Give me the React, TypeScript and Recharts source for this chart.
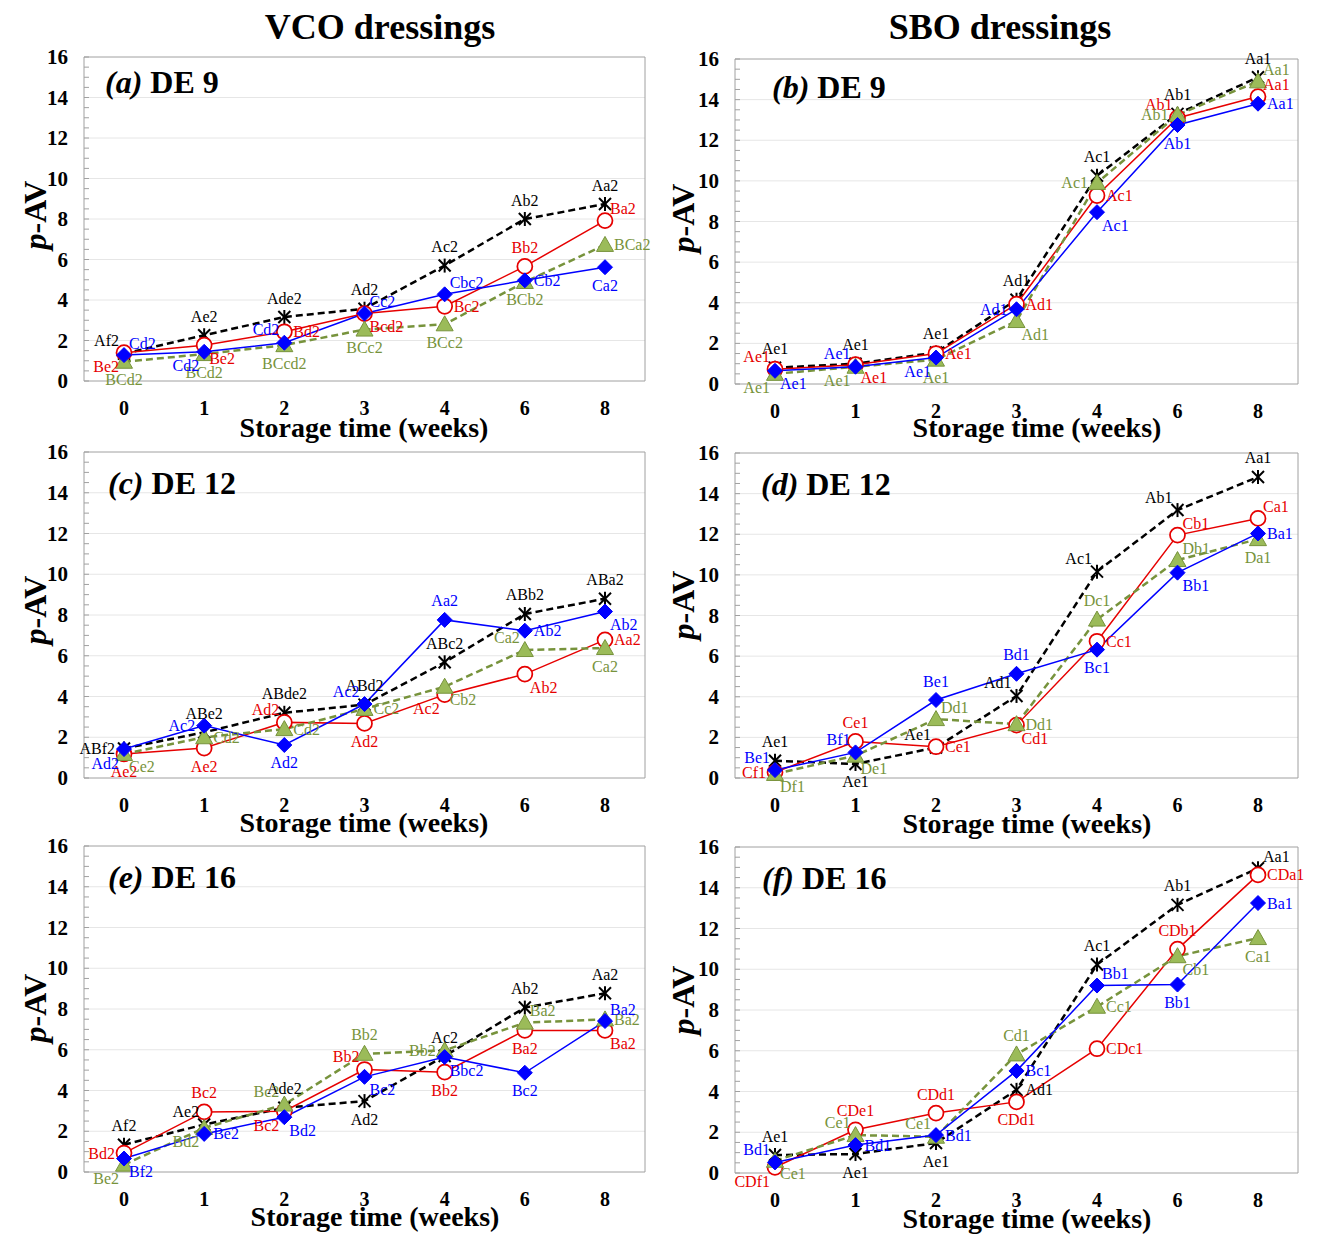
import React from 'react';
import { CartesianGrid, LabelList, Line, LineChart, XAxis, YAxis } from 'recharts';

const WEEKS = ['0', '1', '2', '3', '4', '6', '8'];
const Y_LABELS = [0, 2, 4, 6, 8, 10, 12, 14, 16];
const GRID_VALUES = [2, 4, 6, 8, 10, 12, 14];

// (a) VCO DE 9
const vco9Black = [1.35, 2.26, 3.16, 3.57, 5.7, 8.0, 8.74];
const vco9Red = [1.4, 1.77, 2.43, 3.33, 3.69, 5.66, 7.92];
const vco9Blue = [1.28, 1.44, 1.89, 3.33, 4.28, 4.97, 5.62];
const vco9Green = [0.95, 1.33, 1.77, 2.54, 2.8, 4.89, 6.72];
const vco9BlackLbl = ['Af2', 'Ae2', 'Ade2', 'Ad2', 'Ac2', 'Ab2', 'Aa2'];
const vco9RedLbl = ['Be2', 'Be2', 'Bd2', 'Bcd2', 'Bc2', 'Bb2', 'Ba2'];
const vco9BlueLbl = ['Cd2', 'Cd2', 'Cd2', 'Cc2', 'Cbc2', 'Cb2', 'Ca2'];
const vco9GreenLbl = ['BCd2', 'BCd2', 'BCcd2', 'BCc2', 'BCc2', 'BCb2', 'BCa2'];

// (b) SBO DE 9
const sbo9Black = [0.8, 1.0, 1.55, 4.15, 10.25, 13.3, 15.1];
const sbo9Red = [0.73, 0.95, 1.5, 3.93, 9.28, 13.1, 14.15];
const sbo9Blue = [0.65, 0.85, 1.3, 3.68, 8.46, 12.75, 13.8];
const sbo9Green = [0.5, 0.85, 1.2, 3.1, 9.9, 13.25, 14.9];
const sbo9BlackLbl = ['Ae1', 'Ae1', 'Ae1', 'Ad1', 'Ac1', 'Ab1', 'Aa1'];
const sbo9RedLbl = ['Ae1', 'Ae1', 'Ae1', 'Ad1', 'Ac1', 'Ab1', 'Aa1'];
const sbo9BlueLbl = ['Ae1', 'Ae1', 'Ae1', 'Ad1', 'Ac1', 'Ab1', 'Aa1'];
const sbo9GreenLbl = ['Ae1', 'Ae1', 'Ae1', 'Ad1', 'Ac1', 'Ab1', 'Aa1'];

// (c) VCO DE 12
const vco12Black = [1.45, 2.24, 3.2, 3.6, 5.68, 8.05, 8.8];
const vco12Red = [1.18, 1.47, 2.73, 2.68, 4.09, 5.1, 6.78];
const vco12Blue = [1.42, 2.57, 1.62, 3.63, 7.76, 7.23, 8.17];
const vco12Green = [1.18, 2.0, 2.4, 3.39, 4.48, 6.28, 6.38];
const vco12BlackLbl = ['ABf2', 'ABe2', 'ABde2', 'ABd2', 'ABc2', 'ABb2', 'ABa2'];
const vco12RedLbl = ['Ae2', 'Ae2', 'Ad2', 'Ad2', 'Ac2', 'Ab2', 'Aa2'];
const vco12BlueLbl = ['Ad2', 'Ac2', 'Ad2', 'Ac2', 'Aa2', 'Ab2', 'Ab2'];
const vco12GreenLbl = ['Ce2', 'Cd2', 'Cd2', 'Cc2', 'Cb2', 'Ca2', 'Ca2'];

// (d) SBO DE 12
const sbo12Black = [0.85, 0.69, 1.5, 4.04, 10.16, 13.19, 14.82];
const sbo12Red = [0.28, 1.8, 1.54, 2.6, 6.73, 11.96, 12.78];
const sbo12Blue = [0.39, 1.26, 3.84, 5.13, 6.32, 10.11, 12.04];
const sbo12Green = [0.2, 1.1, 2.9, 2.65, 7.8, 10.73, 11.76];
const sbo12BlackLbl = ['Ae1', 'Ae1', 'Ae1', 'Ad1', 'Ac1', 'Ab1', 'Aa1'];
const sbo12RedLbl = ['Cf1', 'Ce1', 'Ce1', 'Cd1', 'Cc1', 'Cb1', 'Ca1'];
const sbo12BlueLbl = ['Be1', 'Bf1', 'Be1', 'Bd1', 'Bc1', 'Bb1', 'Ba1'];
const sbo12GreenLbl = ['Df1', 'De1', 'Dd1', 'Dd1', 'Dc1', 'Db1', 'Da1'];

// (e) VCO DE 16
const vco16Black = [1.34, 2.33, 3.15, 3.48, 5.69, 8.07, 8.77];
const vco16Red = [0.93, 2.95, 2.98, 5.03, 4.9, 6.95, 6.95];
const vco16Blue = [0.66, 1.87, 2.69, 4.67, 5.64, 4.87, 7.41];
const vco16Green = [0.36, 2.16, 3.31, 5.8, 5.97, 7.33, 7.49];
const vco16BlackLbl = ['Af2', 'Ae2', 'Ade2', 'Ad2', 'Ac2', 'Ab2', 'Aa2'];
const vco16RedLbl = ['Bd2', 'Bc2', 'Bc2', 'Bb2', 'Bb2', 'Ba2', 'Ba2'];
const vco16BlueLbl = ['Bf2', 'Be2', 'Bd2', 'Bc2', 'Bbc2', 'Bc2', 'Ba2'];
const vco16GreenLbl = ['Be2', 'Bd2', 'Bc2', 'Bb2', 'Bb2', 'Ba2', 'Ba2'];

// (f) SBO DE 16
const sbo16Black = [0.88, 0.93, 1.47, 4.08, 10.23, 13.16, 14.96];
const sbo16Red = [0.28, 2.12, 2.94, 3.49, 6.1, 10.99, 14.63];
const sbo16Blue = [0.52, 1.37, 1.86, 5.01, 9.2, 9.25, 13.25];
const sbo16Green = [0.6, 1.86, 1.78, 5.82, 8.16, 10.64, 11.53];
const sbo16BlackLbl = ['Ae1', 'Ae1', 'Ae1', 'Ad1', 'Ac1', 'Ab1', 'Aa1'];
const sbo16RedLbl = ['CDf1', 'CDe1', 'CDd1', 'CDd1', 'CDc1', 'CDb1', 'CDa1'];
const sbo16BlueLbl = ['Bd1', 'Bd1', 'Bd1', 'Bc1', 'Bb1', 'Bb1', 'Ba1'];
const sbo16GreenLbl = ['Ce1', 'Ce1', 'Ce1', 'Cd1', 'Cc1', 'Cb1', 'Ca1'];

// where each letter label sits around its marker (a=above, b=below, l/r, corners)
const PLACES: Record<string, string[][]> = {
  a: [
    ['al', 'a', 'a', 'a', 'a', 'a', 'a'],
    ['bl', 'br', 'r', 'br', 'r', 'a', 'ar'],
    ['ar', 'bl', 'al', 'ar', 'ar', 'r', 'b'],
    ['b', 'b', 'b', 'b', 'b', 'b', 'r'],
  ],
  b: [
    ['a', 'a', 'a', 'a', 'a', 'a', 'a'],
    ['al', 'br', 'r', 'r', 'r', 'al', 'ar'],
    ['br', 'al', 'bl', 'l', 'br', 'b', 'r'],
    ['bl', 'bl', 'b', 'br', 'l', 'l', 'ar'],
  ],
  c: [
    ['l', 'a', 'a', 'a', 'a', 'a', 'a'],
    ['b', 'b', 'al', 'b', 'bl', 'br', 'r'],
    ['bl', 'l', 'b', 'al', 'a', 'r', 'br'],
    ['br', 'r', 'r', 'r', 'br', 'al', 'b'],
  ],
  d: [
    ['a', 'b', 'al', 'al', 'al', 'al', 'a'],
    ['l', 'a', 'r', 'br', 'r', 'ar', 'ar'],
    ['al', 'al', 'a', 'a', 'b', 'br', 'r'],
    ['br', 'br', 'ar', 'r', 'a', 'ar', 'b'],
  ],
  e: [
    ['a', 'al', 'a', 'b', 'a', 'a', 'a'],
    ['l', 'a', 'bl', 'al', 'b', 'b', 'br'],
    ['br', 'r', 'br', 'br', 'br', 'b', 'ar'],
    ['bl', 'bl', 'al', 'a', 'l', 'ar', 'r'],
  ],
  f: [
    ['a', 'b', 'b', 'r', 'a', 'a', 'ar'],
    ['bl', 'a', 'a', 'b', 'r', 'a', 'r'],
    ['al', 'r', 'r', 'r', 'ar', 'b', 'r'],
    ['br', 'al', 'al', 'a', 'r', 'br', 'b'],
  ],
};

const OFFSETS: Record<string, [number, number, string]> = {
  a: [0, -19, 'middle'],
  b: [0, 18, 'middle'],
  l: [-9, 0, 'end'],
  r: [9, 0, 'start'],
  al: [-5, -13, 'end'],
  ar: [5, -12, 'start'],
  bl: [-5, 14, 'end'],
  br: [5, 13, 'start'],
};

const FONT = '"Liberation Serif", "Times New Roman", serif';
const BLACK = '#000000';
const RED = '#e60000';
const BLUE = '#0000ff';
const GREEN_LINE = '#77933c';
const GREEN_FILL = '#9bbb59';
const TOP_PAD = 16;

const STAR = (props: any) => {
  const { cx, cy, index } = props;
  if (cx == null || cy == null) return <g key={`k-${index}`} />;
  return (
    <g key={`k-${index}`} stroke={BLACK} strokeWidth={2}>
      <line x1={cx - 6} y1={cy - 6} x2={cx + 6} y2={cy + 6} />
      <line x1={cx - 6} y1={cy + 6} x2={cx + 6} y2={cy - 6} />
      <line x1={cx} y1={cy - 7} x2={cx} y2={cy + 7} />
    </g>
  );
};

const CIRCLE = (props: any) => {
  const { cx, cy, index } = props;
  return <circle key={`r-${index}`} cx={cx} cy={cy} r={7.5} fill="#ffffff" stroke={RED} strokeWidth={1.75} />;
};

const DIAMOND = (props: any) => {
  const { cx, cy, index } = props;
  return (
    <polygon
      key={`b-${index}`}
      points={`${cx},${cy - 7.5} ${cx + 7.5},${cy} ${cx},${cy + 7.5} ${cx - 7.5},${cy}`}
      fill={BLUE}
      stroke={BLUE}
    />
  );
};

const TRIANGLE = (props: any) => {
  const { cx, cy, index } = props;
  return (
    <polygon
      key={`g-${index}`}
      points={`${cx},${cy - 8.5} ${cx + 8.5},${cy + 6.5} ${cx - 8.5},${cy + 6.5}`}
      fill={GREEN_FILL}
      stroke={GREEN_LINE}
      strokeWidth={1}
    />
  );
};

const makeLabel = (color: string, places: string[]) => (props: any) => {
  const { x, y, value, index } = props;
  const [dx, dy, anchor] = OFFSETS[places[index] || 'a'];
  return (
    <text
      key={`${color}-${index}`}
      x={x + dx}
      y={y + dy}
      textAnchor={anchor as any}
      dominantBaseline="central"
      fill={color}
      fontFamily={FONT}
      fontSize={16}
    >
      {value}
    </text>
  );
};

const MINOR_TICKS = Array.from({ length: 33 }, (_, i) => i * 0.5);

const YTick = (props: any) => {
  const { x, y, payload, index } = props;
  const axisX = x + 16;
  const v = payload.value;
  return (
    <g key={`yt-${index}`}>
      <line x1={axisX} x2={axisX + 5} y1={y} y2={y} stroke="#a0a0a0" />
      {Y_LABELS.includes(v) && (
        <text x={x} y={y} textAnchor="end" dominantBaseline="central" fontFamily={FONT} fontWeight="bold" fontSize={21} fill="#000">
          {v}
        </text>
      )}
    </g>
  );
};

interface PanelDef {
  id: string;
  letter: string;
  title: string;
  col: number;
  plotTop: number;
  plotBottom: number;
  titleX: number;
  titleY: number;
  xTitleX: number;
  xTitleY: number;
  yTitleY: number;
  k: number[];
  r: number[];
  b: number[];
  g: number[];
  kL: string[];
  rL: string[];
  bL: string[];
  gL: string[];
}

const PANELS: PanelDef[] = [
  { id: 'a', letter: '(a)', title: 'DE 9', col: 0, plotTop: 57, plotBottom: 381, titleX: 105, titleY: 82, xTitleX: 364, xTitleY: 428, yTitleY: 215,
    k: vco9Black, r: vco9Red, b: vco9Blue, g: vco9Green, kL: vco9BlackLbl, rL: vco9RedLbl, bL: vco9BlueLbl, gL: vco9GreenLbl },
  { id: 'b', letter: '(b)', title: 'DE 9', col: 1, plotTop: 59, plotBottom: 384, titleX: 772, titleY: 87, xTitleX: 1037, xTitleY: 428, yTitleY: 218,
    k: sbo9Black, r: sbo9Red, b: sbo9Blue, g: sbo9Green, kL: sbo9BlackLbl, rL: sbo9RedLbl, bL: sbo9BlueLbl, gL: sbo9GreenLbl },
  { id: 'c', letter: '(c)', title: 'DE 12', col: 0, plotTop: 452, plotBottom: 778, titleX: 108, titleY: 483, xTitleX: 364, xTitleY: 823, yTitleY: 610,
    k: vco12Black, r: vco12Red, b: vco12Blue, g: vco12Green, kL: vco12BlackLbl, rL: vco12RedLbl, bL: vco12BlueLbl, gL: vco12GreenLbl },
  { id: 'd', letter: '(d)', title: 'DE 12', col: 1, plotTop: 453, plotBottom: 778, titleX: 761, titleY: 484, xTitleX: 1027, xTitleY: 824, yTitleY: 605,
    k: sbo12Black, r: sbo12Red, b: sbo12Blue, g: sbo12Green, kL: sbo12BlackLbl, rL: sbo12RedLbl, bL: sbo12BlueLbl, gL: sbo12GreenLbl },
  { id: 'e', letter: '(e)', title: 'DE 16', col: 0, plotTop: 846, plotBottom: 1172, titleX: 108, titleY: 877, xTitleX: 375, xTitleY: 1217, yTitleY: 1008,
    k: vco16Black, r: vco16Red, b: vco16Blue, g: vco16Green, kL: vco16BlackLbl, rL: vco16RedLbl, bL: vco16BlueLbl, gL: vco16GreenLbl },
  { id: 'f', letter: '(f)', title: 'DE 16', col: 1, plotTop: 847, plotBottom: 1173, titleX: 762, titleY: 878, xTitleX: 1027, xTitleY: 1219, yTitleY: 1000,
    k: sbo16Black, r: sbo16Red, b: sbo16Blue, g: sbo16Green, kL: sbo16BlackLbl, rL: sbo16RedLbl, bL: sbo16BlueLbl, gL: sbo16GreenLbl },
];

const COLS = [
  { chartLeft: 0, yAxisW: 84, width: 655, marginRight: 10, yTitleX: 35 },
  { chartLeft: 675, yAxisW: 60, width: 643, marginRight: 20, yTitleX: 683 },
];

const Panel: React.FC<{ p: PanelDef }> = ({ p }) => {
  const col = COLS[p.col];
  const places = PLACES[p.id];
  const data = WEEKS.map((w, i) => ({
    week: w,
    k: p.k[i],
    r: p.r[i],
    b: p.b[i],
    g: p.g[i],
    kL: p.kL[i],
    rL: p.rL[i],
    bL: p.bL[i],
    gL: p.gL[i],
  }));
  const plotH = p.plotBottom - p.plotTop;
  const plotRight = col.width - col.marginRight;
  return (
    <>
      <div style={{ position: 'absolute', left: col.chartLeft, top: p.plotTop - TOP_PAD }}>
        <LineChart width={col.width} height={plotH + TOP_PAD + 45} data={data} margin={{ top: TOP_PAD, right: col.marginRight, left: 0, bottom: 0 }}>
          <CartesianGrid vertical={false} horizontalValues={GRID_VALUES} stroke="#e6e6e6" />
          {/* plot frame */}
          <CartesianGrid
            horizontalPoints={[TOP_PAD, TOP_PAD + plotH]}
            verticalPoints={[col.yAxisW, plotRight]}
            stroke="#a0a0a0"
          />
          <XAxis
            dataKey="week"
            height={45}
            interval={0}
            padding={{ left: 40, right: 40 }}
            tickLine={false}
            axisLine={false}
            tickSize={6}
            tickMargin={14}
            tick={{ fontFamily: FONT, fontWeight: 'bold', fontSize: 20, fill: '#000' }}
          />
          <YAxis
            type="number"
            domain={[0, 16]}
            ticks={MINOR_TICKS}
            interval={0}
            width={col.yAxisW}
            axisLine={false}
            tickLine={false}
            tickSize={6}
            tickMargin={10}
            tick={YTick}
          />
          <Line type="linear" dataKey="k" stroke={BLACK} strokeWidth={2.5} strokeDasharray="7 4" dot={STAR} activeDot={false} isAnimationActive={false}>
            <LabelList dataKey="kL" content={makeLabel(BLACK, places[0])} />
          </Line>
          <Line type="linear" dataKey="r" stroke={RED} strokeWidth={1.5} dot={CIRCLE} activeDot={false} isAnimationActive={false}>
            <LabelList dataKey="rL" content={makeLabel(RED, places[1])} />
          </Line>
          <Line type="linear" dataKey="g" stroke={GREEN_LINE} strokeWidth={2.5} strokeDasharray="7 4" dot={TRIANGLE} activeDot={false} isAnimationActive={false}>
            <LabelList dataKey="gL" content={makeLabel(GREEN_LINE, places[3])} />
          </Line>
          <Line type="linear" dataKey="b" stroke={BLUE} strokeWidth={1.5} dot={DIAMOND} activeDot={false} isAnimationActive={false}>
            <LabelList dataKey="bL" content={makeLabel(BLUE, places[2])} />
          </Line>
        </LineChart>
      </div>
      <div
        style={{
          position: 'absolute',
          left: p.titleX,
          top: p.titleY,
          transform: 'translateY(-50%)',
          fontFamily: FONT,
          fontWeight: 'bold',
          fontSize: 32,
          lineHeight: 1,
          whiteSpace: 'nowrap',
        }}
      >
        <span style={{ fontStyle: 'italic' }}>{p.letter}</span> {p.title}
      </div>
      <div
        style={{
          position: 'absolute',
          left: p.xTitleX,
          top: p.xTitleY,
          transform: 'translate(-50%, -50%)',
          fontFamily: FONT,
          fontWeight: 'bold',
          fontSize: 28,
          lineHeight: 1,
          whiteSpace: 'nowrap',
        }}
      >
        Storage time (weeks)
      </div>
      <div
        style={{
          position: 'absolute',
          left: col.yTitleX,
          top: p.yTitleY,
          transform: 'translate(-50%, -50%) rotate(-90deg)',
          fontFamily: FONT,
          fontWeight: 'bold',
          fontSize: 32,
          lineHeight: 1,
          whiteSpace: 'nowrap',
        }}
      >
        <span style={{ fontStyle: 'italic' }}>p</span>-AV
      </div>
    </>
  );
};

const headStyle: React.CSSProperties = {
  position: 'absolute',
  top: 27,
  transform: 'translate(-50%, -50%)',
  fontFamily: FONT,
  fontWeight: 'bold',
  fontSize: 36,
  lineHeight: 1,
  whiteSpace: 'nowrap',
};

export default function App() {
  return (
    <div style={{ position: 'absolute', left: 0, top: 0, width: 1322, height: 1236, background: '#fff', overflow: 'hidden' }}>
      <div style={{ ...headStyle, left: 380 }}>VCO dressings</div>
      <div style={{ ...headStyle, left: 1000 }}>SBO dressings</div>
      {PANELS.map((p) => (
        <Panel key={p.id} p={p} />
      ))}
    </div>
  );
}
